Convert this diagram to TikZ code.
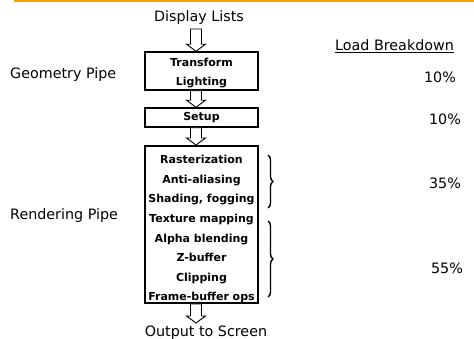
\documentclass[tikz,border=0pt]{standalone}
\usepackage{fontspec}
\newfontfamily\dv{DejaVu Sans}
\usetikzlibrary{calc,decorations.pathreplacing}
\definecolor{topline}{RGB}{245,160,0}
\newcommand\harrow[3]{%
  \draw[hollowarrow] let \p1=(#1), \p2=(#2) in
    (#3pt-5.5pt,\y1) -- (#3pt-5.5pt,\y2+7pt) -- (#3pt-9.5pt,\y2+7pt) -- (#3pt,\y2)
    -- (#3pt+9.5pt,\y2+7pt) -- (#3pt+5.5pt,\y2+7pt) -- (#3pt+5.5pt,\y1) -- cycle;}
\begin{document}
\begin{tikzpicture}[x=1pt,y=-1pt,
  lbl/.style={font=\dv\fontsize{14.3}{16}\selectfont, inner sep=0pt},
  stagebox/.style={draw, line width=1.5pt, minimum width=113pt, inner sep=0pt,
    align=center, font=\dv\bfseries\fontsize{11}{19.6}\selectfont},
  hollowarrow/.style={draw, line width=0.9pt, fill=white, line join=miter},
  bracestyle/.style={decorate, decoration={brace, amplitude=5pt}, line width=1.4pt}]
\useasboundingbox (0,0) rectangle (474,339);
\draw[topline, line width=2pt] (14,1) -- (474,1);

\node[lbl] (disp) at (199,18) {Display Lists};
\coordinate (dispb) at (196,29);
\node[stagebox, minimum height=38pt] (tl) at (201.5,71) {\rule{0pt}{12.5pt}Transform\\Lighting};
\node[stagebox, minimum height=19pt] (setup) at (201.5,117.5) {Setup};
\node[stagebox, minimum height=157pt] (rend) at (201.5,224.5)
  {\rule{0pt}{18pt}Rasterization\\Anti-aliasing\\Shading, fogging\\Texture mapping\\Alpha blending\\Z-buffer\\Clipping\\Frame-buffer ops};
\node[lbl] (out) at (206,333) {Output to Screen};
\coordinate (outt) at (196,323);

\harrow{dispb}{tl.north}{196}
\harrow{tl.south}{setup.north}{196}
\harrow{setup.south}{rend.north}{196}
\harrow{rend.south}{outt}{196}

\node[lbl, anchor=west] (geo) at (10,75) {Geometry Pipe};
\node[lbl, anchor=west] (ren) at (10,216) {Rendering Pipe};
\node[lbl, anchor=west] (load) at (335,46) {\underline{Load Breakdown}};
\node[lbl] (p1) at (440,77) {10\%};
\node[lbl] (p2) at (445,119) {10\%};
\node[lbl] (p3) at (445,183) {35\%};
\node[lbl] (p4) at (447,268) {55\%};

\draw[bracestyle] (268,155) -- (268,208);
\draw[bracestyle] (268,221) -- (268,297);
\end{tikzpicture}
\end{document}
